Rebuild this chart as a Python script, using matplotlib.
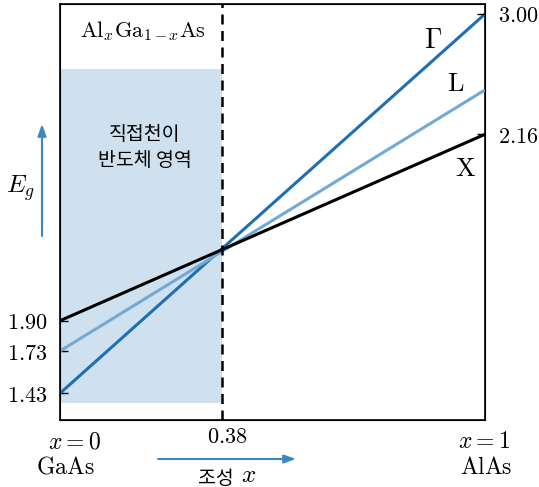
import numpy as np
import matplotlib
matplotlib.use('Agg')
from matplotlib import pyplot as plt

plt.rcParams['mathtext.fontset'] = 'cm'
plt.rcParams['font.family'] = ['DejaVu Serif']
kfont = ['Noto Sans CJK KR', 'DejaVu Sans']

# band gap (eV) at x=0 (GaAs) and x=1 (AlAs)
valleys = ['Γ', 'L', 'X']
eg_gaas = [1.43, 1.73, 1.90]
eg_alas = [3.00, 2.47, 2.16]
colors = ['#1f6fb4', '#72a9d5', '#000000']
x_cross = 0.38
left_ticks = [1.43, 1.73, 1.90]
right_ticks = [2.16, 3.00]

# schematic (not-to-scale) energy axis, as in the textbook figure
e_knots = [1.24, 1.43, 1.73, 1.90, 2.16, 3.00, 3.07]
h_knots = [0, 26.7, 69, 99.3, 285.7, 406, 416]
fwd = lambda e: np.interp(e, e_knots, h_knots)
inv = lambda h: np.interp(h, h_knots, e_knots)

fig = plt.figure(figsize=(5.39, 4.87), dpi=100)
ax = fig.add_axes([60/539, 1-420/487, 425/539, 416/487])
ax.set_yscale('function', functions=(fwd, inv))
ax.set_xlim(0, 1)
ax.set_ylim(e_knots[0], e_knots[-1])

ax.axvspan(0, x_cross, ymin=0.042, ymax=0.844, color='#cfe1ee', lw=0, zorder=0)
for name, e0, e1, c in zip(valleys, eg_gaas, eg_alas, colors):
    ax.plot([0, 1], [e0, e1], color=c, lw=2.2, solid_capstyle='butt', zorder=3)
ax.axvline(x_cross, color='black', lw=1.8, dashes=(4, 2.6), zorder=4)

for s in ax.spines.values():
    s.set_linewidth(1.2)
ax.set_xticks([])
ax.set_yticks(left_ticks)
ax.set_yticklabels(['$%.2f$' % v for v in left_ticks], fontsize=16)
ax.tick_params(axis='y', direction='in', length=6, width=1, pad=9)

ax2 = ax.twinx()
ax2.set_yscale('function', functions=(fwd, inv))
ax2.set_ylim(e_knots[0], e_knots[-1])
ax2.set_yticks(right_ticks)
ax2.set_yticklabels(['$%.2f$' % v for v in right_ticks], fontsize=16)
ax2.tick_params(axis='y', direction='in', length=6, width=1, pad=9)

# labels inside
ax.text(0.195, 0.935, r'$\mathrm{Al}_x\mathrm{Ga}_{1-x}\mathrm{As}$', transform=ax.transAxes,
        ha='center', va='center', fontsize=16)
ax.text(0.2, 0.655, '직접천이\n반도체 영역', transform=ax.transAxes, ha='center', va='center',
        fontsize=14, family=kfont, linespacing=1.3)
ax.text(0.877, 0.912, r'$\Gamma$', transform=ax.transAxes, ha='center', va='center', fontsize=20)
ax.text(0.930, 0.808, r'$\mathrm{L}$', transform=ax.transAxes, ha='center', va='center', fontsize=19)
ax.text(0.955, 0.605, r'$\mathrm{X}$', transform=ax.transAxes, ha='center', va='center', fontsize=19)

# labels outside
fx = lambda p: p/539
fy = lambda p: 1 - p/487
fig.text(fx(74), fy(442), '$x = 0$', ha='center', va='center', fontsize=17)
fig.text(fx(65), fy(467), r'$\mathrm{GaAs}$', ha='center', va='center', fontsize=17)
fig.text(fx(484), fy(442), '$x = 1$', ha='center', va='center', fontsize=17)
fig.text(fx(486), fy(467), r'$\mathrm{AlAs}$', ha='center', va='center', fontsize=17)
fig.text(fx(227), fy(437), '$0.38$', ha='center', va='center', fontsize=16)
fig.text(fx(216), fy(478), '조성', ha='center', va='center', fontsize=14, family=kfont)
fig.text(fx(249), fy(476), '$x$', ha='center', va='center', fontsize=18)
fig.text(fx(20), fy(188), '$E_g$', ha='center', va='center', fontsize=18)

arrow = dict(arrowstyle='-|>,head_length=0.7,head_width=0.25', color='#3a86c6', lw=1.5,
             shrinkA=0, shrinkB=0)
ax.annotate('', xy=(fx(42), fy(124)), xytext=(fx(42), fy(236)),
            xycoords='figure fraction', textcoords='figure fraction', arrowprops=arrow)
ax.annotate('', xy=(fx(296), fy(459)), xytext=(fx(158), fy(459)),
            xycoords='figure fraction', textcoords='figure fraction', arrowprops=arrow)

plt.savefig('out.png', dpi=100)
